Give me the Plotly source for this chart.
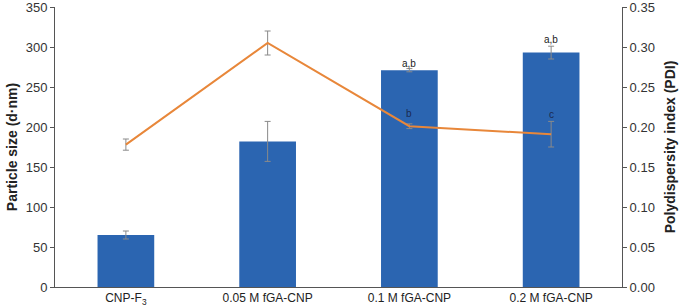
import plotly.graph_objects as go

categories = ["CNP-F<sub>3</sub>", "0.05 M fGA-CNP", "0.1 M fGA-CNP", "0.2 M fGA-CNP"]
size_vals = [65, 182, 271, 293]
size_err = [5, 25, 2, 8]
pdi_vals = [0.178, 0.305, 0.201, 0.191]
pdi_err = [0.007, 0.015, 0.003, 0.016]
size_labels = ["", "", "a,b", "a,b"]
size_label_y = [0, 0, 280, 309]
pdi_labels = ["", "", "b", "c"]
pdi_label_y = [0, 0, 0.2175, 0.216]
size_ticks = [0, 50, 100, 150, 200, 250, 300, 350]
pdi_ticks = [0.0, 0.05, 0.10, 0.15, 0.20, 0.25, 0.30, 0.35]

fig = go.Figure()
fig.add_trace(go.Bar(
    x=categories, y=size_vals,
    marker=dict(color="#2B65B1", line=dict(width=0)),
    error_y=dict(type="data", array=size_err, color="#8a8a8a", thickness=1, width=3),
    width=0.4, showlegend=False,
))
fig.add_trace(go.Scatter(
    x=categories, y=pdi_vals, yaxis="y2", mode="lines",
    line=dict(color="#E8873A", width=2),
    error_y=dict(type="data", array=pdi_err, color="#8a8a8a", thickness=1, width=3),
    showlegend=False,
))

for c, t, yv in zip(categories, size_labels, size_label_y):
    if t:
        fig.add_annotation(x=c, y=yv, xref="x", yref="y", text=t, showarrow=False,
                           font=dict(size=10, color="#222", family="Liberation Sans, Arial"))
for c, t, yv in zip(categories, pdi_labels, pdi_label_y):
    if t:
        fig.add_annotation(x=c, y=yv, xref="x", yref="y2", text=t, showarrow=False,
                           font=dict(size=10, color="#1a2a50", family="Liberation Sans, Arial"))

axis_common = dict(showgrid=False, zeroline=False, showline=True, linecolor="#555",
                   linewidth=1, ticks="outside", ticklen=4, tickcolor="#555",
                   tickfont=dict(size=13, color="#333"), ticklabeloverflow="allow")

fig.update_layout(
    width=682, height=308,
    margin=dict(l=55, r=60, t=7, b=21, autoexpand=False),
    plot_bgcolor="white", paper_bgcolor="white",
    font=dict(family="Liberation Sans, Arial", color="#222"),
    bargap=0.6,
    xaxis=dict(showgrid=False, showline=True, linecolor="#555", linewidth=1,
               ticks="", tickfont=dict(size=12, color="#222")),
    yaxis=dict(range=[0, 350], tickmode="array", tickvals=size_ticks,
               title=dict(text="<b>Particle size (d·nm)</b>", font=dict(size=14, color="#222"), standoff=4),
               **axis_common),
    yaxis2=dict(range=[0, 0.35], tickmode="array", tickvals=pdi_ticks, tickformat=".2f",
                overlaying="y", side="right",
                title=dict(text="<b>Polydispersity index (PDI)</b>", font=dict(size=14, color="#222"), standoff=11),
                **axis_common),
)

fig.write_html("out.html", config={"displayModeBar": False},
               post_script="document.body.style.margin='0';document.body.style.overflow='hidden';")
